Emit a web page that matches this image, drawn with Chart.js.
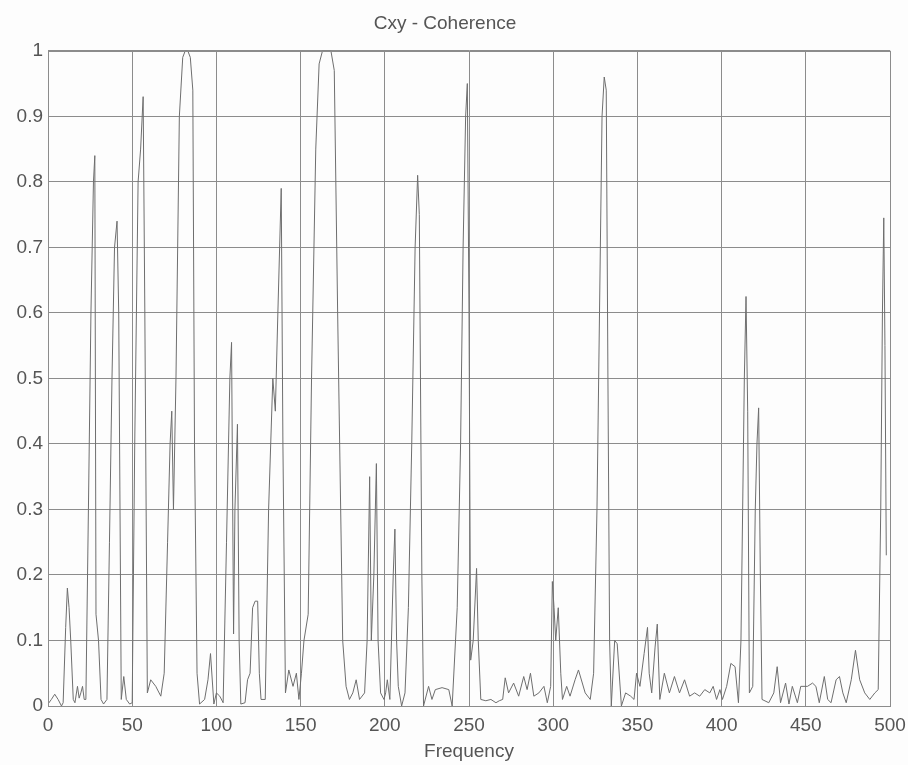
<!DOCTYPE html>
<html>
<head>
<meta charset="utf-8">
<script src="https://cdn.jsdelivr.net/npm/chart.js@4"></script>
<style>
  html, body { margin: 0; padding: 0; background: #fdfdfd; }
  #wrap { width: 908px; height: 765px; }
</style>
</head>
<body>
<div id="wrap"><canvas id="cohChart" width="908" height="765"></canvas></div>
<script>
// frequency (x) and coherence (y)
const freq = [
  0, 2, 4, 6, 8, 9, 10.5, 11.5, 12.5, 13.5, 15, 16, 17.5, 18.5, 19.5, 20.5, 21.5, 22.5,
  24, 25.5, 27, 27.8, 28.5, 30, 31.5, 33, 35, 36.5, 38, 39.5, 41, 42, 43.5, 45, 46.5, 48.5,
  50, 51.5, 53.5, 55, 56.5, 57.5, 59, 61, 64, 67, 69, 71, 72.5, 73.5, 74.5, 76, 78, 80,
  81.5, 83, 84.5, 86, 87, 88.5, 90, 93, 95, 96.5, 98.5, 100, 102, 104, 106, 108, 109,
  110.2, 111, 112.5, 113.5, 114.5, 117, 118.5, 120, 121.5, 123, 124.5, 125.5, 126.5, 129,
  131, 133.5, 135, 136.5, 138.5, 139.5, 141, 143, 145.5, 147.5, 149, 150.5, 152, 154.5,
  156.5, 159, 161, 163, 168, 170, 172, 175, 177, 179, 181, 183, 185, 188, 189.5, 191,
  192, 193.5, 195, 196, 197.5, 199.5, 200.5, 201.5, 203, 205, 206, 207, 208, 210, 212,
  214, 216, 218, 219.5, 220.5, 222, 223, 226, 228, 230, 234, 238, 240, 243, 245, 246.5,
  248, 249, 250, 251, 252.5, 254.5, 255.5, 257, 260, 263, 266, 268, 270, 271.5, 273.5,
  276.5, 279.5, 282.5, 284.5, 286.5, 288.5, 291.5, 294.5, 296.5, 298.5, 299.5, 300.5,
  301.5, 303, 304.5, 305.5, 308, 310, 313, 315, 319, 322, 324, 326, 327.5, 329, 330.3,
  331.5, 332.5, 333.5, 334.5, 336.5, 338, 340.5, 343, 346, 348, 349.5, 351.5, 354, 356,
  357, 358.5, 360.5, 361.8, 363.3, 366, 369, 372, 375, 378, 381, 384, 387, 390, 393, 395,
  397, 399, 400.5, 403, 405.5, 408, 410, 411.5, 412.5, 413.5, 414.5, 415.5, 416.5, 418.5,
  420, 421, 422, 423, 424, 428, 431, 433, 435, 438, 440, 442, 445, 447, 451, 454, 456,
  458, 461, 463, 465, 468, 470, 472, 474, 477, 479.5, 482, 485, 488, 491, 493, 494.5,
  495.5, 496.3, 497, 497.8
];
const coherence = [
  0.003, 0.010, 0.018, 0.010, 0.000, 0.005, 0.12, 0.18, 0.15, 0.10, 0.01, 0.005, 0.03, 0.012, 0.02, 0.03, 0.01, 0.01,
  0.30, 0.60, 0.80, 0.84, 0.14, 0.10, 0.01, 0.003, 0.01, 0.25, 0.50, 0.70, 0.74, 0.60, 0.01, 0.045, 0.01, 0.003,
  0.005, 0.40, 0.80, 0.85, 0.93, 0.60, 0.02, 0.04, 0.03, 0.015, 0.05, 0.25, 0.40, 0.45, 0.30, 0.50, 0.90, 0.99,
  1.0, 1.0, 0.99, 0.94, 0.40, 0.05, 0.003, 0.01, 0.04, 0.08, 0.003, 0.02, 0.015, 0.005, 0.25, 0.50, 0.555,
  0.11, 0.30, 0.43, 0.10, 0.003, 0.005, 0.04, 0.05, 0.15, 0.16, 0.16, 0.05, 0.01, 0.01,
  0.30, 0.50, 0.45, 0.60, 0.79, 0.40, 0.02, 0.055, 0.03, 0.05, 0.01, 0.05, 0.10, 0.14,
  0.50, 0.85, 0.98, 1.0, 1.0, 0.97, 0.60, 0.10, 0.03, 0.01, 0.02, 0.04, 0.01, 0.02, 0.10, 0.35,
  0.10, 0.20, 0.37, 0.10, 0.02, 0.01, 0.02, 0.04, 0.01, 0.20, 0.27, 0.10, 0.03, 0.0, 0.02,
  0.15, 0.40, 0.70, 0.81, 0.75, 0.20, 0.0, 0.03, 0.01, 0.025, 0.028, 0.025, 0.0, 0.15, 0.40, 0.70,
  0.90, 0.95, 0.60, 0.07, 0.10, 0.21, 0.10, 0.01, 0.008, 0.01, 0.005, 0.008, 0.01, 0.043, 0.02,
  0.035, 0.015, 0.045, 0.025, 0.05, 0.015, 0.02, 0.03, 0.005, 0.03, 0.19, 0.15,
  0.10, 0.15, 0.05, 0.01, 0.03, 0.015, 0.04, 0.055, 0.02, 0.01, 0.05, 0.30, 0.60, 0.90, 0.96,
  0.94, 0.50, 0.10, 0.0, 0.10, 0.095, 0.0, 0.02, 0.015, 0.01, 0.05, 0.03, 0.08, 0.12,
  0.05, 0.02, 0.09, 0.125, 0.01, 0.05, 0.02, 0.045, 0.02, 0.04, 0.015, 0.02, 0.015, 0.025, 0.02, 0.03,
  0.01, 0.025, 0.01, 0.03, 0.065, 0.06, 0.005, 0.10, 0.30, 0.50, 0.625, 0.45, 0.02, 0.03,
  0.30, 0.40, 0.455, 0.20, 0.01, 0.005, 0.02, 0.06, 0.005, 0.035, 0.003, 0.03, 0.005, 0.03, 0.03, 0.035, 0.03,
  0.005, 0.045, 0.01, 0.005, 0.04, 0.045, 0.02, 0.005, 0.04, 0.085, 0.04, 0.02, 0.01, 0.02, 0.025, 0.30,
  0.60, 0.745, 0.55, 0.23
];
const xTicks = [0, 50, 100, 150, 200, 250, 300, 350, 400, 450, 500];
const yTicks = [0, 0.1, 0.2, 0.3, 0.4, 0.5, 0.6, 0.7, 0.8, 0.9, 1];

const points = freq.map((f, i) => ({ x: f, y: coherence[i] }));

const textColor = "#555555";
const gridColor = "#8c8c8c";
const fontFamily = "'Liberation Sans', Arial, sans-serif";

const ctx = document.getElementById("cohChart").getContext("2d");
new Chart(ctx, {
  type: "line",
  data: {
    datasets: [
      {
        data: points,
        borderColor: "#6e6e6e",
        borderWidth: 1,
        pointRadius: 0,
        tension: 0,
        fill: false,
      },
    ],
  },
  options: {
    responsive: false,
    animation: false,
    layout: { padding: { left: 0, right: 18, top: 0, bottom: 0 } },
    plugins: {
      legend: { display: false },
      tooltip: { enabled: false },
      title: {
        display: true,
        text: "Cxy - Coherence",
        color: textColor,
        font: { family: fontFamily, size: 19, weight: "normal" },
        padding: { top: 12, bottom: 16 },
      },
    },
    scales: {
      x: {
        type: "linear",
        min: 0,
        max: 500,
        afterBuildTicks: (scale) => {
          scale.ticks = xTicks.map((v) => ({ value: v }));
        },
        afterFit: (scale) => {
          scale.height = 59;
          // let the end labels hang over the edges instead of shrinking the plot
          scale.paddingLeft = 0;
          scale.paddingRight = 0;
        },
        ticks: {
          color: textColor,
          font: { family: fontFamily, size: 19 },
          padding: 8,
          maxRotation: 0,
        },
        grid: { color: gridColor, lineWidth: 1, drawTicks: false },
        border: { color: gridColor, width: 1 },
        title: {
          display: true,
          text: "Frequency",
          color: textColor,
          font: { family: fontFamily, size: 19 },
          padding: { top: 0, bottom: 2 },
        },
      },
      y: {
        min: 0,
        max: 1,
        afterBuildTicks: (scale) => {
          scale.ticks = yTicks.map((v) => ({ value: v }));
        },
        afterFit: (scale) => {
          scale.width = 48;
        },
        ticks: {
          color: textColor,
          font: { family: fontFamily, size: 19 },
          padding: 5,
          callback: (v) => String(parseFloat(Number(v).toFixed(1))),
        },
        grid: { color: gridColor, lineWidth: 1, drawTicks: false },
        border: { color: gridColor, width: 1 },
      },
    },
  },
  plugins: [
    {
      // right and top edges of the plot box
      id: "frameBox",
      afterDraw(chart) {
        const a = chart.chartArea;
        const c = chart.ctx;
        c.save();
        c.strokeStyle = gridColor;
        c.lineWidth = 1;
        c.strokeRect(Math.round(a.left) + 0.5, Math.round(a.top) + 0.5, Math.round(a.right - a.left), Math.round(a.bottom - a.top));
        c.restore();
      },
    },
  ],
});
</script>
</body>
</html>
